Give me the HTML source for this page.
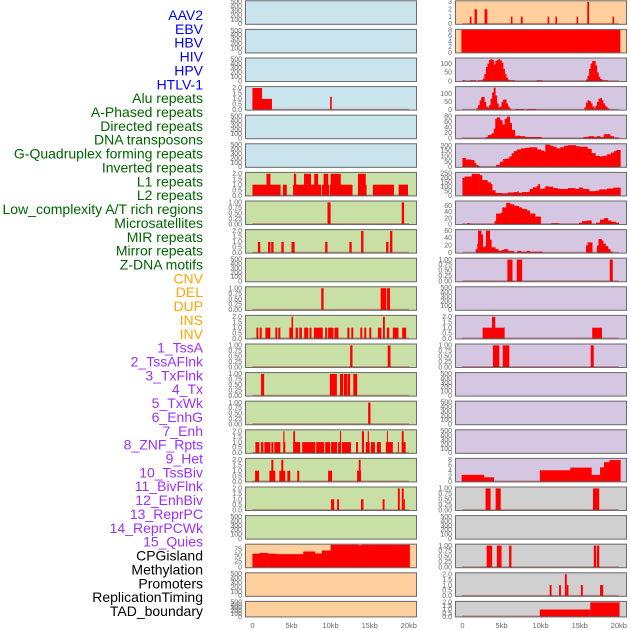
<!DOCTYPE html>
<html><head><meta charset="utf-8"><style>
html,body{margin:0;padding:0;background:#fff;}
svg{display:block;}
</style></head><body>
<svg id="chart" width="630" height="630" viewBox="0 0 630 630" xmlns="http://www.w3.org/2000/svg" font-family="Liberation Sans, Arial, sans-serif"></svg>
<script>
// ---------- category labels ----------
const labelNames = ["AAV2","EBV","HBV","HIV","HPV","HTLV-1","Alu repeats","A-Phased repeats","Directed repeats","DNA transposons","G-Quadruplex forming repeats","Inverted repeats","L1 repeats","L2 repeats","Low_complexity A/T rich regions","Microsatellites","MIR repeats","Mirror repeats","Z-DNA motifs","CNV","DEL","DUP","INS","INV","1_TssA","2_TssAFlnk","3_TxFlnk","4_Tx","5_TxWk","6_EnhG","7_Enh","8_ZNF_Rpts","9_Het","10_TssBiv","11_BivFlnk","12_EnhBiv","13_ReprPC","14_ReprPCWk","15_Quies","CPGisland","Methylation","Promoters","ReplicationTiming","TAD_boundary"];
const labelGroups = ["v","v","v","v","v","v","r","r","r","r","r","r","r","r","r","r","r","r","r","c","c","c","c","c","s","s","s","s","s","s","s","s","s","s","s","s","s","s","s","k","k","k","k","k"];
const xTickValues = [0,5,10,15,20];
const xTickLabels = ["0","5kb","10kb","15kb","20kb"];

// ---------- left column data: segments [startKb, endKb, value] ----------
const L_r4 = [[0,2.5,1],[0,1.23,2],[9.94,10.15,1.2]];
const L_r7 = [[0,3.6,1],[1.8,2.3,2],[3.9,4.4,1],[5.2,8.8,1],[5.3,5.6,2],[6.6,7.5,2],[7.9,8.4,2],[8.9,9.8,1],[9.1,9.7,2],[9.9,12.8,1],[10,11.3,2],[13.5,14.6,1],[13.5,14.5,2],[15.4,16,1],[16,18.1,1],[18.7,19.9,1]];
const L_r8 = [[9.6,10,1],[19.1,19.4,1]];
const L_r9 = [[0.7,1.0,1],[2.0,2.3,1],[2.4,2.7,1],[3.7,4.0,1],[5.0,5.4,1],[9.3,9.6,1],[12.4,12.7,1],[13.9,14.2,2],[17.1,17.4,1],[17.6,17.9,2]];
const L_r11 = [[8.8,9.1,1],[16.4,17.1,1],[17.2,17.6,1]];
const L_r12 = [[0.51,0.76,1],[0.93,1.19,1],[1.66,2.29,1],[2.93,3.18,1],[3.31,3.57,1],[4.71,5.05,1],[5.0,5.2,2],[5.52,5.82,1],[5.99,6.33,1],[6.62,7.13,1],[7.3,7.56,1],[7.86,9.0,1],[9.3,9.55,1],[9.68,10.36,1],[10.49,11.0,1],[12.14,12.4,1],[12.65,12.9,1],[13.8,14.05,1],[14.3,14.56,1],[14.95,15.2,1],[16.05,16.5,1],[16.7,16.94,2],[17.2,17.5,1],[17.96,18.68,1],[19.15,19.66,1]];
const L_r13 = [[12.5,12.8,1],[17.3,17.66,1]];
const L_r14 = [[1.1,1.5,1],[9.9,10.8,1],[11.2,11.6,1],[11.7,12.1,1],[12.15,12.5,1],[12.9,13.4,1]];
const L_r15 = [[14.8,15.1,1]];
const L_r16 = [[0.38,0.89,1],[1.1,1.4,1],[1.53,2.29,1],[2.42,2.68,1],[2.8,3.57,1],[3.95,4.2,1],[3.95,4.1,2],[5.22,6.11,1],[5.22,5.45,2],[6.37,8.03,1],[8.15,9.17,1],[9.3,9.94,1],[10.06,10.83,1],[10.96,11.34,1],[11.2,11.34,2],[11.46,12.6,1],[13.25,13.5,1],[14.0,14.27,2],[14.5,15.0,1],[14.75,14.9,2],[15.16,15.67,1],[15.92,16.43,1],[17.07,17.96,1],[17.2,17.33,2],[18.6,18.73,1],[19.1,19.6,1],[19.1,19.35,2]];
const L_r17 = [[0.34,0.85,1],[2.17,2.93,1],[2.42,2.68,2],[3.44,4.2,1],[3.69,3.95,2],[4.46,4.84,1],[5.73,5.99,1],[9.68,10.19,1],[13.38,13.89,1],[13.6,13.84,2]];
const L_r18 = [[10.06,10.45,1],[10.83,11.08,1],[13.89,14.2,1],[16.65,16.9,1],[18.6,18.85,2],[19.1,19.35,2],[19.35,19.5,1]];
// steps [kb, value] (value holds until next kb)
const L_cpg = [[0,57],[0.9,60],[2.0,57],[3.0,55],[6.5,66],[8.0,58],[8.9,70],[10.0,94],[13.5,92],[14.0,94],[20.1,0]];

// ---------- right column data ----------
const R_aav2 = [[0.94,1.16,1],[1.55,1.85,2],[2.83,3.18,2],[6.2,6.4,1],[7.47,7.7,1],[10.9,11.1,1],[11.9,12.1,1],[14.6,14.8,1],[15.97,16.2,3],[19.2,19.4,1]];
const R_ebv = [[-0.13,20.2,8.2]];
const R_hiv = [[0,5],[0.3,0],[1,5],[1.7,0],[2,5],[2.6,15],[2.8,40],[3.0,80],[3.2,100],[3.4,120],[3.6,125],[3.8,120],[4.0,95],[4.2,115],[4.4,120],[4.6,125],[4.8,118],[5.0,105],[5.2,70],[5.4,40],[5.6,20],[5.8,8],[6.0,5],[6.7,0],[9.5,5],[10.2,0],[15.8,10],[16.0,30],[16.2,70],[16.4,100],[16.6,115],[16.8,115],[17.0,90],[17.2,50],[17.4,25],[17.6,12],[17.8,8],[18.0,5],[18.6,0]];
const R_hpv = [[1.8,10],[2.0,30],[2.2,60],[2.4,80],[2.6,82],[2.8,50],[3.0,20],[3.2,15],[3.4,30],[3.6,70],[3.8,110],[4.0,140],[4.2,90],[4.4,40],[4.6,15],[4.8,20],[5.0,50],[5.2,65],[5.4,65],[5.6,40],[5.8,20],[6.0,8],[6.2,0],[6.8,5],[7.8,0],[8.2,5],[9.4,0],[15.6,15],[15.8,45],[16.0,60],[16.2,55],[16.4,40],[16.6,20],[16.8,10],[17.0,25],[17.2,50],[17.4,70],[17.6,75],[17.8,60],[18.0,40],[18.2,25],[18.4,15],[18.6,8],[18.8,0]];
const R_r5 = [[3.0,5],[3.26,12],[3.7,18],[4.0,35],[4.2,70],[4.4,75],[4.8,65],[5.1,50],[5.4,70],[5.7,78],[6.05,55],[6.3,30],[6.7,8],[6.9,10],[7.3,8],[8.0,5],[9.3,5],[10.1,0],[15.5,5],[16.1,8],[16.8,5],[17.2,8],[17.6,5],[18.1,15],[18.7,15],[18.9,8],[19.35,3],[20.0,0]];
const R_r6 = [[0,85],[0.4,70],[1.1,65],[1.5,40],[1.7,20],[2.0,10],[2.2,0],[4.3,20],[4.8,50],[5.2,75],[5.6,80],[6.0,100],[6.3,130],[6.6,150],[7.0,165],[7.5,175],[8.0,180],[8.5,185],[9.0,185],[9.5,165],[10.0,155],[10.4,145],[10.6,210],[11.2,200],[11.6,190],[12.0,175],[12.5,185],[13.0,200],[13.5,205],[14.0,205],[14.5,195],[15.0,190],[15.5,190],[16.0,170],[16.5,130],[17.0,105],[17.5,100],[18.0,105],[18.5,120],[19.0,135],[19.4,150],[19.7,160],[20.2,0]];
const R_r7 = [[0,200],[0.3,215],[1.2,245],[2.2,230],[2.5,175],[3.2,150],[3.6,130],[3.8,60],[4.2,30],[5.0,25],[5.8,35],[6.6,40],[7.0,45],[7.2,30],[7.6,40],[8.6,75],[9.0,95],[9.5,110],[9.7,130],[9.9,75],[10.3,80],[10.6,105],[11.0,100],[11.6,85],[12.2,75],[13.5,85],[14.4,75],[14.9,90],[15.4,75],[16.2,50],[17.0,55],[17.5,70],[18.5,80],[19.3,90],[20.2,0]];
const R_r8 = [[0.6,3],[0.9,0],[4.1,10],[4.3,35],[4.9,38],[5.1,55],[5.6,70],[6.1,65],[6.6,60],[7.2,55],[7.6,50],[8.2,45],[8.6,35],[9.3,25],[10.0,0],[11.4,3],[12.4,0],[14.9,5],[15.3,10],[15.9,12],[16.5,0],[17.1,5],[17.6,15],[18.1,20],[18.6,12],[19.0,8],[19.6,5],[20.0,0]];
const R_r9 = [[1.7,10],[1.9,25],[2.0,60],[2.4,50],[2.6,15],[2.8,18],[3.0,60],[3.5,35],[3.7,15],[4.2,10],[4.6,5],[5.0,8],[5.3,10],[5.8,5],[6.6,0],[7.0,5],[7.5,3],[8.2,5],[8.6,3],[10.2,0],[15.8,20],[16.0,28],[16.6,0],[17.2,20],[17.4,37],[17.8,33],[18.0,25],[18.3,18],[18.6,10],[18.9,3],[19.2,0]];
const R_r10 = [[5.75,6.4,1],[6.95,7.64,1],[18.84,19.23,1]];
const R_r12 = [[2.58,5.4,1],[3.78,4.2,2],[16.6,17.85,1]];
const R_r13 = [[3.9,4.72,1],[5.15,6.0,1],[16.4,16.8,1]];
const R_r17 = [[-0.1,2.5],[2.75,1.6],[4.0,0],[9.9,4.2],[13.8,5.2],[16.5,2.5],[17.6,5.3],[18.1,7.2],[18.8,8],[20.2,0]];
const R_r18 = [[2.96,3.6,1],[4.25,4.9,1],[16.7,17.5,1]];
const R_r20 = [[3.1,3.8,1],[4.4,5.0,1],[5.97,6.27,1],[16.8,17.1,1],[17.2,17.5,1]];
const R_r21 = [[11.16,11.4,1],[12.36,12.6,1],[13.1,13.35,2],[13.35,13.56,1],[15.15,15.4,1],[17.6,18.0,1]];
const R_r22 = [[9.9,16.35,1],[16.35,20.1,2]];

// ---------- axis configs ----------
const T500=[0,100,200,300,400,500], T2=[0,0.5,1,1.5,2], T1=[0,0.25,0.5,0.75,1];
const BL="#c9e4ec", GR="#c8e0a5", PE="#ffd09e", LA="#d5c6e2", GY="#d0d0d0";
const leftPanels = [
 {bg:BL,t:T500,ym:520},{bg:BL,t:T500,ym:520},{bg:BL,t:T500,ym:520},
 {bg:BL,t:T2,ym:2.1,seg:L_r4},{bg:BL,t:T500,ym:520},{bg:BL,t:T500,ym:520},
 {bg:GR,t:T2,ym:2.1,seg:L_r7},{bg:GR,t:T1,ym:1.05,seg:L_r8},{bg:GR,t:T2,ym:2.1,seg:L_r9},
 {bg:GR,t:T500,ym:520},{bg:GR,t:T1,ym:1.05,seg:L_r11},{bg:GR,t:T2,ym:2.1,seg:L_r12},
 {bg:GR,t:T1,ym:1.05,seg:L_r13},{bg:GR,t:T1,ym:1.05,seg:L_r14},{bg:GR,t:T1,ym:1.05,seg:L_r15},
 {bg:GR,t:T2,ym:2.1,seg:L_r16},{bg:GR,t:T2,ym:2.1,seg:L_r17},{bg:GR,t:T2,ym:2.1,seg:L_r18},
 {bg:GR,t:T500,ym:520},{bg:PE,t:[0,25,50,75],ym:95,steps:L_cpg,nobase:true},
 {bg:PE,t:T500,ym:520},{bg:PE,t:T500,ym:520}
];
const rightPanels = [
 {bg:PE,t:[0,1,2,3],ym:3.1,seg:R_aav2},{bg:PE,t:[0,2,4,6,8],ym:8.2,seg:R_ebv,nobase:true},
 {bg:LA,t:[0,50,100],ym:130,steps:R_hiv},{bg:LA,t:[0,50,100],ym:145,steps:R_hpv},
 {bg:LA,t:[0,20,40,60,80],ym:82,steps:R_r5},{bg:LA,t:[0,50,100,150,200],ym:215,steps:R_r6},
 {bg:LA,t:[0,50,100,150,200,250],ym:258,steps:R_r7},{bg:LA,t:[0,20,40,60],ym:75,steps:R_r8},
 {bg:LA,t:[0,20,40,60],ym:62,steps:R_r9},{bg:LA,t:T1,ym:1.05,seg:R_r10},
 {bg:LA,t:T500,ym:520},{bg:LA,t:T2,ym:2.1,seg:R_r12},{bg:LA,t:T1,ym:1.05,seg:R_r13},
 {bg:LA,t:T500,ym:520},{bg:LA,t:T500,ym:520},{bg:LA,t:T500,ym:520},
 {bg:LA,t:[0,2,4,6,8],ym:8.5,steps:R_r17},{bg:GY,t:T1,ym:1.05,seg:R_r18},
 {bg:GY,t:T500,ym:520},{bg:GY,t:T1,ym:1.05,seg:R_r20},{bg:GY,t:T2,ym:2.1,seg:R_r21},
 {bg:GY,t:T2,ym:2.1,seg:R_r22}
];

const NS="http://www.w3.org/2000/svg";
const svg=document.getElementById('chart');
function mk(tag,attrs,parent){const e=document.createElementNS(NS,tag);for(const k in attrs)e.setAttribute(k,attrs[k]);(parent||svg).appendChild(e);return e;}

const PW=172, XMIN=-0.95, XMAX=21.05;
function xScale(col,kb){return col+(kb-XMIN)/(XMAX-XMIN)*PW;}
function rowTop(i){return i<21?0.3+i*28.6:600.9;}
function rowH(i){return i<21?24.5:16.5;}
function yScale(top,h,ym,v){return top+h-0.8-v/ym*(h-1.6);}
function fmt(t,ticks){const mx=Math.max(...ticks);if(mx===1)return t.toFixed(2);if(mx===2)return t.toFixed(1);return String(t);}

// labels
const grpColor={v:"#0000ff",r:"#006400",c:"#ffa500",s:"#9b30ff",k:"#000000"};
labelNames.forEach((n,i)=>{
  const t=mk('text',{x:203,y:(15+i*13.86+5).toFixed(1),'text-anchor':'end','font-size':'14',fill:grpColor[labelGroups[i]]});
  
  
  t.textContent=n;
});

function drawPanel(col,i,p,side){
  const top=rowTop(i),h=rowH(i);
  const g=mk('g',{});
  
  
  const bg=mk('rect',{x:col,y:top,width:PW,height:h,fill:p.bg},g);
  
  
  // ticks
  p.t.forEach(tv=>{
    const yy=yScale(top,h,p.ym,tv);
    const tx=mk('text',{x:col-3,y:(yy+2.2).toFixed(1),'text-anchor':'end','font-size':'7',fill:'#666'},g);
    
    
    tx.textContent=fmt(tv,p.t);
  });
  const y0=yScale(top,h,p.ym,0);
  if(p.seg){
    p.seg.forEach(s=>{
      const x1=xScale(col,s[0]),x2=xScale(col,s[1]),yv=yScale(top,h,p.ym,s[2]);
      const r=mk('rect',{x:x1.toFixed(2),y:Math.max(top,yv).toFixed(2),width:Math.max(0.8,x2-x1).toFixed(2),height:(y0-Math.max(top,yv)).toFixed(2),fill:'#ff0000'},g);
      
      
    });
  }
  if(p.steps){
    for(let k=0;k<p.steps.length-1;k++){
      const s=p.steps[k],n=p.steps[k+1];
      if(s[1]<=0)continue;
      const x1=xScale(col,s[0]),x2=xScale(col,n[0]),yv=yScale(top,h,p.ym,s[1]);
      const r=mk('rect',{x:x1.toFixed(2),y:Math.max(top,yv).toFixed(2),width:(x2-x1+0.3).toFixed(2),height:(y0-Math.max(top,yv)).toFixed(2),fill:'#ff0000'},g);
      
      
    }
  }
  if((p.seg||p.steps)&&!p.nobase){
    const bl=mk('line',{x1:xScale(col,0),x2:xScale(col,20),y1:y0-0.3,y2:y0-0.3,stroke:'rgba(160,30,30,0.45)','stroke-width':1.6},g);
    
    
  }
  const fr=mk('rect',{x:col+0.5,y:top+0.5,width:PW-1,height:h-1,fill:'none',stroke:'#6b6b6b','stroke-width':1},g);
  
  
}
leftPanels.forEach((p,i)=>drawPanel(245,i,p,'left'));
rightPanels.forEach((p,i)=>drawPanel(455,i,p,'right'));

// x axes
[245,455].forEach((col,ci)=>{
  xTickValues.forEach((v,k)=>{
    const t=mk('text',{x:xScale(col,v).toFixed(1),y:628,'text-anchor':'middle','font-size':'7.5',fill:'#666'});
    
    
    t.textContent=xTickLabels[k];
  });
});
</script>
</body></html>
